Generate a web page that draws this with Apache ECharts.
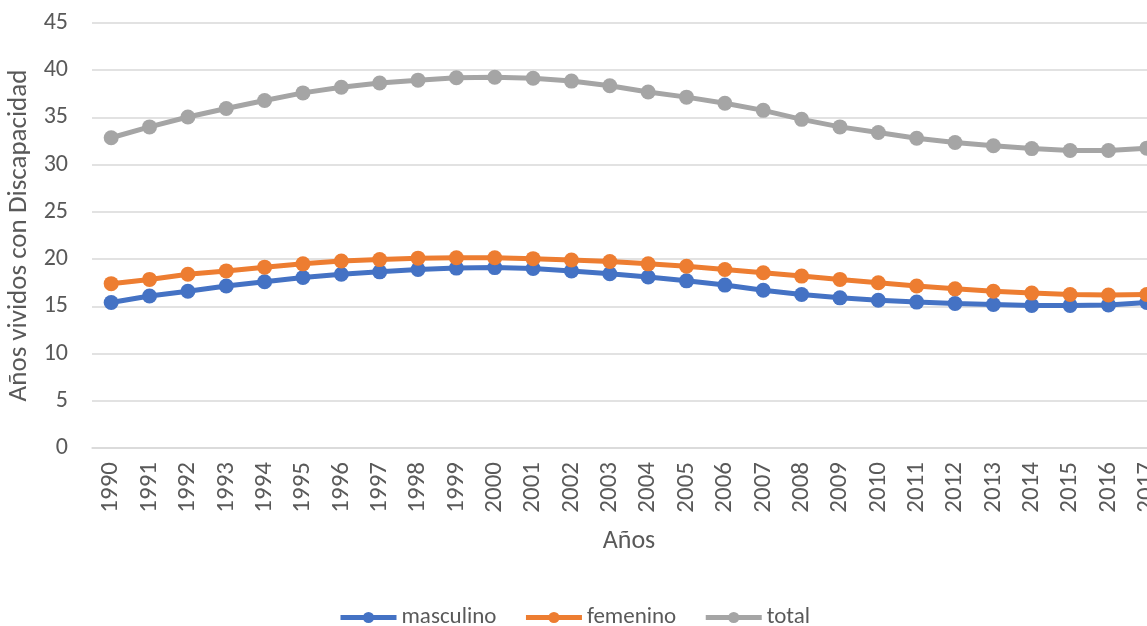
<!DOCTYPE html>
<html>
<head>
<meta charset="utf-8">
<script src="https://cdn.jsdelivr.net/npm/echarts@6/dist/echarts.min.js"></script>
<style>
html,body{margin:0;padding:0;background:#fff;overflow:hidden;}
#chart{width:1166px;height:626px;}
</style>
</head>
<body>
<div id="chart"></div>
<script>
var years = ['1990','1991','1992','1993','1994','1995','1996','1997','1998','1999',
	'2000','2001','2002','2003','2004','2005','2006','2007','2008','2009',
	'2010','2011','2012','2013','2014','2015','2016','2017'];
/**masculino*/
var masculino = [15.4,16.1,16.6,17.15,17.6,18.05,18.4,18.65,18.9,19.05,
	19.1,19.0,18.75,18.45,18.1,17.7,17.25,16.7,16.25,15.9,
	15.65,15.45,15.3,15.2,15.1,15.1,15.15,15.4];
/**femenino*/
var femenino = [17.4,17.85,18.4,18.75,19.15,19.5,19.8,19.95,20.1,20.15,
	20.15,20.05,19.9,19.75,19.5,19.25,18.9,18.55,18.2,17.85,
	17.5,17.15,16.85,16.6,16.4,16.25,16.2,16.25];
/**total*/
var total = [32.85,34.0,35.05,35.95,36.8,37.6,38.2,38.65,38.95,39.2,
	39.25,39.15,38.85,38.35,37.7,37.15,36.5,35.75,34.8,34.0,
	33.4,32.8,32.35,32.0,31.7,31.5,31.5,31.75];
var yTicks = [0,45,5];

var font = 'Carlito, Lato, "Liberation Sans", sans-serif';
var textColor = '#595959';

function lineSerie(name, data, color){
	return {
		name: name,
		type: 'line',
		data: data,
		symbol: 'circle',
		symbolSize: 15,
		lineStyle: { width: 5, color: color },
		itemStyle: { color: color },
		emphasis: { disabled: true },
		animation: false
	};
}

// el div es mas ancho que la ventana: la ultima categoria queda cortada como en el original
var chart = echarts.init(document.getElementById('chart'));
chart.setOption({
	animation: false,
	grid: { left: 92, right: 0, top: 23, bottom: 178, containLabel: false, outerBoundsMode: 'none' },
	legend: {
		top: 601,
		left: 333,
		itemWidth: 56,
		itemHeight: 14,
		itemGap: 27,
		lineStyle: { width: 5 },
		textStyle: { fontFamily: font, fontSize: 23, color: textColor },
		data: ['masculino','femenino','total']
	},
	xAxis: {
		type: 'category',
		data: years,
		boundaryGap: true,
		name: 'Años',
		nameLocation: 'middle',
		nameGap: 80,
		nameTextStyle: { fontFamily: font, fontSize: 26, color: textColor },
		axisLine: { lineStyle: { color: '#D9D9D9', width: 1.5 } },
		axisTick: { show: false },
		axisLabel: { rotate: 90, fontFamily: font, fontSize: 25, color: textColor, margin: 14, interval: 0 }
	},
	yAxis: {
		type: 'value',
		min: yTicks[0],
		max: yTicks[1],
		interval: yTicks[2],
		name: 'Años vividos con Discapacidad',
		nameLocation: 'middle',
		nameGap: 56,
		nameTextStyle: { fontFamily: font, fontSize: 27, color: textColor },
		axisLine: { show: false },
		axisTick: { show: false },
		axisLabel: { fontFamily: font, fontSize: 24, color: textColor, margin: 24 },
		splitLine: { lineStyle: { color: '#D9D9D9', width: 1.5 } }
	},
	series: [
		lineSerie('masculino', masculino, '#4472C4'),
		lineSerie('femenino', femenino, '#ED7D31'),
		lineSerie('total', total, '#A5A5A5')
	]
});
</script>
</body>
</html>
